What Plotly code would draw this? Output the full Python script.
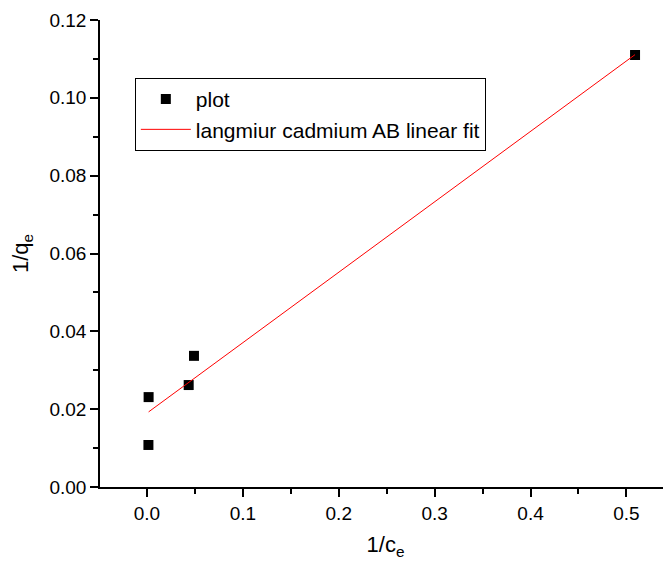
import plotly.graph_objects as go

# data
x_pts = [0.0017, 0.0015, 0.0435, 0.049, 0.509]
y_pts = [0.0231, 0.0108, 0.0262, 0.0337, 0.1110]
fit_x = [0.0017, 0.509]
fit_y = [0.0193, 0.1111]

x_range = [-0.049, 0.5465]
y_range = [0.0, 0.12]

fig = go.Figure()
fig.add_trace(go.Scatter(x=x_pts, y=y_pts, mode="markers", name="plot",
                         marker=dict(symbol="square", size=10, color="black")))
fig.add_trace(go.Scatter(x=fit_x, y=fit_y, mode="lines", name="langmiur cadmium AB linear fit",
                         line=dict(color="#ff0000", width=1)))

font = "Liberation Sans, Arial, sans-serif"
axis_common = dict(showgrid=False, zeroline=False, showline=True, linecolor="black", linewidth=1.5,
                   ticks="outside", ticklen=8, tickwidth=1.5, tickcolor="black", automargin=False,
                   tickfont=dict(family=font, size=19, color="black"), mirror=False)

# page body has an 8px margin: figure is sized so the page is exactly 671x567
fig.update_layout(
    width=663, height=559,
    margin=dict(l=92, r=0, t=12, b=80),
    plot_bgcolor="white", paper_bgcolor="white",
    font=dict(family=font, color="black"),
    xaxis=dict(range=x_range, dtick=0.1, tickformat=".1f",
               minor=dict(dtick=0.05, ticks="outside", ticklen=5, tickwidth=1.5, tickcolor="black"),
               title=dict(text="1/c<sub>e</sub>", font=dict(family=font, size=22), standoff=14),
               **axis_common),
    yaxis=dict(range=y_range, dtick=0.02, tickformat=".2f",
               minor=dict(dtick=0.01, ticks="outside", ticklen=5, tickwidth=1.5, tickcolor="black"),
               title=dict(text="1/q<sub>e</sub>", font=dict(family=font, size=22), standoff=16),
               **axis_common),
    legend=dict(x=0.061, y=0.876, xanchor="left", yanchor="top",
                bordercolor="black", borderwidth=1, bgcolor="white",
                font=dict(family=font, size=21), tracegroupgap=0, itemwidth=50),
    showlegend=True,
)

fig.write_html("out.html")
